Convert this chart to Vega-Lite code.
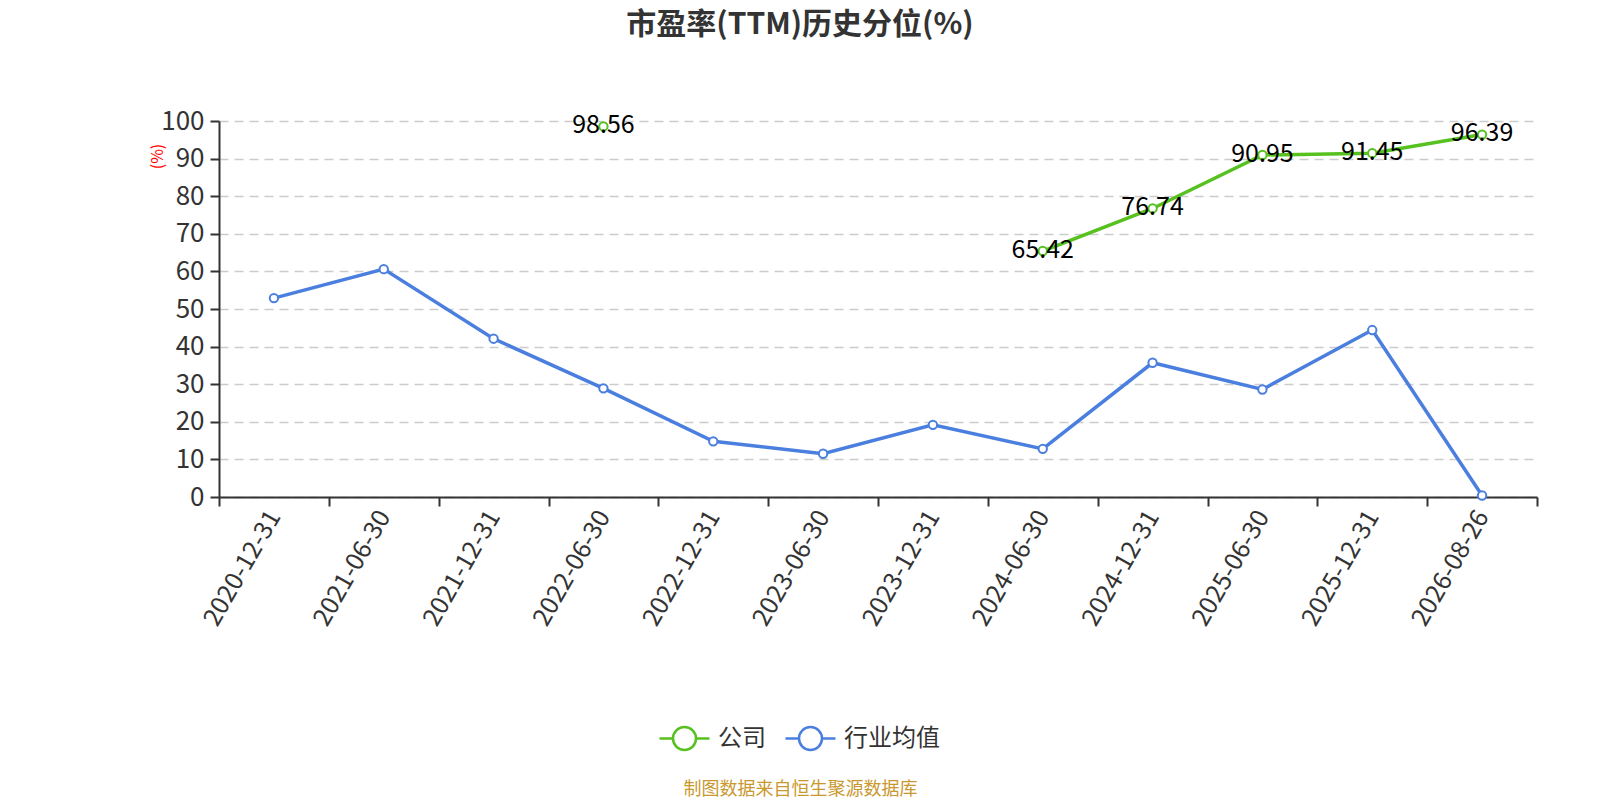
{
  "$schema": "https://vega.github.io/schema/vega-lite/v6.json",
  "width": 1318,
  "height": 376,
  "autosize": {"type": "none"},
  "padding": {"left": 219, "top": 121, "right": 63, "bottom": 303},
  "background": "white",
  "config": {
    "font": "Noto Sans CJK SC",
    "view": {"stroke": null}
  },
  "title": {
    "text": "市盈率(TTM)历史分位(%)",
    "fontSize": 30,
    "fontWeight": "bold",
    "color": "#333333",
    "font": "Noto Sans CJK SC",
    "anchor": "middle",
    "frame": "group",
    "dx": -78,
    "offset": 53,
    "baseline": "middle"
  },
  "data": {
    "values": [
      {"date": "2020-12-31", "series": "公司", "value": null},
      {"date": "2021-06-30", "series": "公司", "value": null},
      {"date": "2021-12-31", "series": "公司", "value": null},
      {"date": "2022-06-30", "series": "公司", "value": 98.56},
      {"date": "2022-12-31", "series": "公司", "value": null},
      {"date": "2023-06-30", "series": "公司", "value": null},
      {"date": "2023-12-31", "series": "公司", "value": null},
      {"date": "2024-06-30", "series": "公司", "value": 65.42},
      {"date": "2024-12-31", "series": "公司", "value": 76.74},
      {"date": "2025-06-30", "series": "公司", "value": 90.95},
      {"date": "2025-12-31", "series": "公司", "value": 91.45},
      {"date": "2026-08-26", "series": "公司", "value": 96.39},
      {"date": "2020-12-31", "series": "行业均值", "value": 52.9},
      {"date": "2021-06-30", "series": "行业均值", "value": 60.6},
      {"date": "2021-12-31", "series": "行业均值", "value": 42.1},
      {"date": "2022-06-30", "series": "行业均值", "value": 28.9},
      {"date": "2022-12-31", "series": "行业均值", "value": 14.8},
      {"date": "2023-06-30", "series": "行业均值", "value": 11.5},
      {"date": "2023-12-31", "series": "行业均值", "value": 19.2},
      {"date": "2024-06-30", "series": "行业均值", "value": 12.8},
      {"date": "2024-12-31", "series": "行业均值", "value": 35.7},
      {"date": "2025-06-30", "series": "行业均值", "value": 28.6},
      {"date": "2025-12-31", "series": "行业均值", "value": 44.4},
      {"date": "2026-08-26", "series": "行业均值", "value": 0.4}
    ]
  },
  "encoding": {
    "x": {
      "field": "date",
      "type": "nominal",
      "sort": null,
      "scale": {"type": "band", "paddingInner": 0, "paddingOuter": 0},
      "axis": {
        "title": "制图数据来自恒生聚源数据库",
        "titleColor": "#c9982f",
        "titleFontSize": 18,
        "titleFontWeight": "normal",
        "titleFont": "Noto Sans CJK SC",
        "titleX": 581,
        "titleY": 292,
        "titleAlign": "center",
        "titleBaseline": "middle",
        "titleAnchor": null,
        "labelAngle": -60,
        "labelAlign": "right",
        "labelBaseline": "middle",
        "labelFontSize": 25,
        "labelColor": "#333333",
        "labelPadding": 6,
        "labelOverlap": false,
        "tickBand": "extent",
        "tickSize": 9,
        "tickColor": "#333333",
        "tickWidth": 2,
        "domainColor": "#333333",
        "domainWidth": 2,
        "grid": false
      }
    },
    "y": {
      "field": "value",
      "type": "quantitative",
      "scale": {"domain": [0, 100], "nice": false},
      "axis": {
        "title": "(%)",
        "titleColor": "red",
        "titleFontSize": 16,
        "titleFontWeight": "normal",
        "titleX": -62,
        "titleY": 35,
        "titleAngle": -90,
        "titleAlign": "center",
        "titleBaseline": "middle",
        "values": [0, 10, 20, 30, 40, 50, 60, 70, 80, 90, 100],
        "labelFontSize": 26,
        "labelColor": "#333333",
        "labelPadding": 6,
        "tickSize": 9,
        "tickColor": "#333333",
        "tickWidth": 2,
        "domainColor": "#333333",
        "domainWidth": 2,
        "grid": true,
        "gridColor": "#cccccc",
        "gridDash": [9, 6],
        "gridWidth": 1.5
      }
    },
    "color": {
      "field": "series",
      "type": "nominal",
      "scale": {"domain": ["公司", "行业均值"], "range": ["#56c11f", "#4b7fdf"]},
      "legend": {
        "title": null,
        "orient": "none",
        "direction": "horizontal",
        "legendX": 439,
        "legendY": 591,
        "symbolType": "M-1,0L-0.46,0M0.46,0L1,0M0.46,0A0.46,0.46,0,1,1,-0.46,0A0.46,0.46,0,1,1,0.46,0",
        "symbolSize": 2500,
        "symbolStrokeWidth": 2.5,
        "symbolFillColor": "white",
        "labelFontSize": 24,
        "labelColor": "#333333",
        "labelOffset": 7,
        "columnPadding": 14
      }
    }
  },
  "layer": [
    {
      "mark": {"type": "line", "strokeWidth": 3.5, "invalid": "break-paths-show-domains"}
    },
    {
      "mark": {"type": "point", "shape": "circle", "filled": false, "fill": "white", "opacity": 1, "strokeWidth": 2, "size": 70}
    },
    {
      "transform": [{"filter": "datum.series === '公司' && isValid(datum.value)"}],
      "mark": {"type": "text", "fontSize": 25, "color": "#000000", "baseline": "middle", "align": "center", "dy": -1.5},
      "encoding": {
        "text": {"field": "value", "type": "quantitative", "format": ".2f"},
        "color": {"value": "#000000"}
      }
    }
  ]
}
